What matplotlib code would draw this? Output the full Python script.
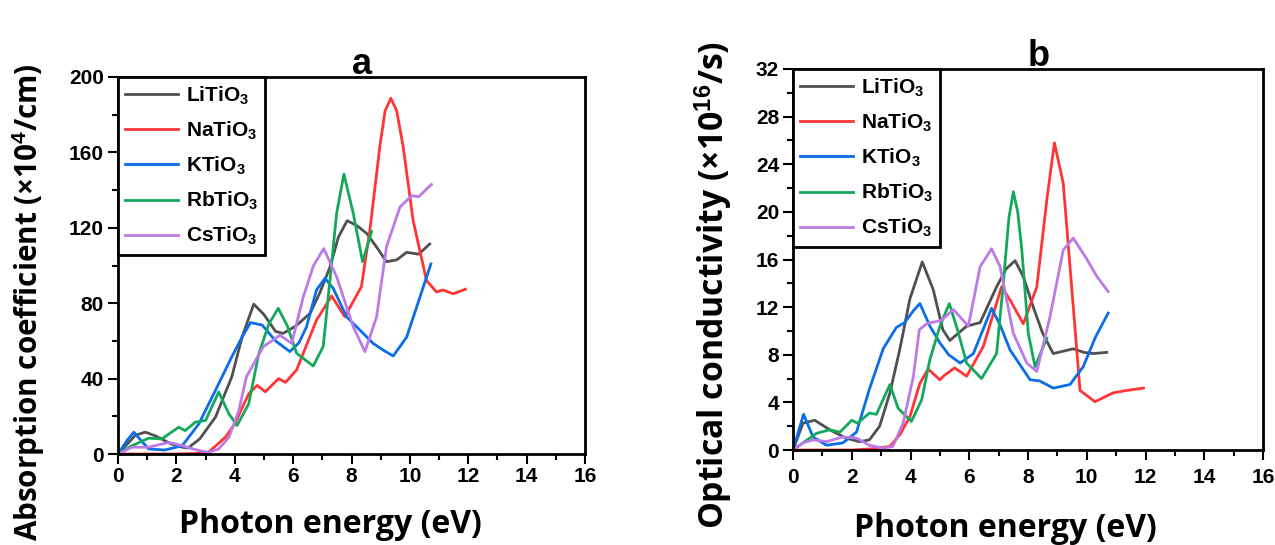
import matplotlib
matplotlib.use("Agg")
import matplotlib.pyplot as plt
from matplotlib.ticker import MultipleLocator

plt.rcParams['font.family'] = ['Liberation Sans', 'DejaVu Sans']
plt.rcParams['font.weight'] = 'bold'
plt.rcParams['mathtext.fontset'] = 'custom'
plt.rcParams['mathtext.rm'] = 'Liberation Sans:bold'
plt.rcParams['mathtext.bf'] = 'Liberation Sans:bold'
plt.rcParams['mathtext.it'] = 'Liberation Sans:bold'

names = ["LiTiO$_3$", "NaTiO$_3$", "KTiO$_3$", "RbTiO$_3$", "CsTiO$_3$"]
colores = ["#505050", "#ff3535", "#0a6ee8", "#14a85c", "#bb7ae8"]

# ---- panel a: coeficiente de absorcion (x10^4/cm) ----
li_e_a = [0, 0.3, 0.6, 0.94, 1.3, 1.8, 2.2, 2.4, 2.8, 3.34, 3.9, 4.25, 4.65, 5.0, 5.4, 5.66, 6.1, 6.58, 6.9, 7.26, 7.55, 7.85, 8.2, 8.52, 8.85, 9.2, 9.55, 9.89, 10.3, 10.68]
li_v_a = [0, 5, 10, 11.6, 9.5, 5.5, 3.6, 3.2, 8, 19.6, 41, 62, 79.5, 74, 65, 64, 68, 74.6, 85, 99, 115, 123.8, 121, 117, 110, 102, 103, 107, 106, 111.4]
na_e_a = [0, 1.0, 2.0, 2.7, 3.1, 3.68, 4.0, 4.48, 4.77, 5.05, 5.5, 5.74, 6.12, 6.8, 7.32, 7.77, 8.34, 8.63, 8.97, 9.15, 9.35, 9.55, 9.77, 10.11, 10.57, 10.91, 11.14, 11.48, 11.9]
na_v_a = [0, 0, 0, 0.3, 0.9, 8.9, 16, 32, 36.4, 33, 40, 38, 44.6, 71, 83.8, 72.8, 88.8, 118.8, 163, 182, 188.7, 182, 163, 124, 92, 86, 87, 85, 87.4]
k_e_a = [0, 0.3, 0.54, 0.8, 1.05, 1.6, 2.2, 2.77, 3.34, 3.9, 4.25, 4.54, 4.94, 5.4, 5.89, 6.2, 6.46, 6.8, 7.09, 7.37, 7.83, 8.4, 8.74, 9.1, 9.43, 9.89, 10.34, 10.72]
k_v_a = [0, 7, 11.6, 7, 2.7, 2.1, 4.4, 16, 33.8, 51.6, 62, 69.7, 68.4, 60, 54.3, 59, 67.5, 87, 93.2, 88, 72.8, 64, 58.7, 55, 52, 62, 83, 100.8]
rb_e_a = [0, 0.48, 1.05, 1.5, 2.08, 2.3, 2.65, 3.0, 3.45, 3.8, 4.08, 4.48, 4.82, 5.17, 5.49, 5.8, 6.12, 6.69, 7.03, 7.26, 7.49, 7.74, 8.06, 8.38, 8.69]
rb_v_a = [0, 4.4, 8.4, 8, 14.2, 12.4, 16.9, 17.8, 32.9, 21.3, 15.1, 26.7, 53, 69, 77.3, 68, 53.4, 46.7, 57, 92, 127.7, 148.5, 127.7, 102, 118]
cs_e_a = [0, 0.48, 1.05, 1.74, 2.2, 2.77, 3.1, 3.45, 3.8, 4.14, 4.4, 4.98, 5.55, 5.95, 6.35, 6.7, 7.05, 7.49, 8.06, 8.46, 8.86, 9.2, 9.66, 10.06, 10.3, 10.74]
cs_v_a = [0, 3.6, 3.6, 6.2, 4.4, 1.8, 0.9, 2.7, 8.9, 23, 41, 57, 63, 58.7, 83.5, 100, 109, 94, 67.5, 54.3, 72.8, 110, 131, 137, 136.5, 143]

# ---- panel b: conductividad optica (x10^16/s) ----
li_e_b = [0, 0.34, 0.74, 1.25, 1.8, 2.27, 2.6, 2.95, 3.3, 3.64, 3.98, 4.4, 4.77, 5.1, 5.34, 5.91, 6.37, 6.93, 7.25, 7.56, 7.85, 8.18, 8.5, 8.86, 9.2, 9.54, 9.9, 10.22, 10.68]
li_v_b = [0, 2.25, 2.5, 1.7, 1.0, 0.7, 0.85, 2.0, 4.8, 8.5, 12.7, 15.8, 13.5, 10.1, 9.2, 10.4, 10.7, 13.7, 15.2, 15.9, 14.5, 12.0, 9.8, 8.1, 8.3, 8.5, 8.2, 8.1, 8.2]
na_e_b = [0, 1.0, 2.0, 2.7, 3.3, 3.64, 3.98, 4.32, 4.6, 5.0, 5.12, 5.5, 5.91, 6.48, 7.1, 7.39, 7.84, 8.3, 8.64, 8.9, 9.2, 9.43, 9.66, 9.77, 10.28, 10.9, 11.36, 11.93]
na_v_b = [0, 0, 0, 0.1, 0.3, 1.3, 2.8, 5.6, 6.8, 5.9, 6.2, 6.9, 6.2, 8.7, 13.7, 12.6, 10.6, 13.7, 21, 25.8, 22.4, 15.4, 8.4, 5.0, 4.06, 4.8, 5.0, 5.2]
k_e_b = [0, 0.36, 0.68, 1.14, 1.7, 2.16, 2.6, 3.07, 3.52, 3.8, 4.1, 4.32, 4.66, 5.0, 5.3, 5.69, 6.14, 6.5, 6.76, 7.05, 7.39, 8.07, 8.4, 8.86, 9.43, 9.88, 10.3, 10.73]
k_v_b = [0, 3.0, 1.1, 0.4, 0.6, 1.5, 5.1, 8.5, 10.3, 10.7, 11.7, 12.3, 10.4, 9.0, 8.0, 7.3, 8.1, 10.3, 11.9, 10.5, 8.4, 5.9, 5.8, 5.2, 5.5, 7.0, 9.5, 11.5]
rb_e_b = [0, 0.34, 0.8, 1.25, 1.6, 2.0, 2.2, 2.6, 2.84, 3.3, 3.58, 4.03, 4.38, 4.66, 5.0, 5.32, 5.6, 5.91, 6.42, 6.93, 7.16, 7.35, 7.5, 7.65, 7.79, 8.01, 8.24, 8.64]
rb_v_b = [0, 0.6, 1.4, 1.7, 1.5, 2.5, 2.25, 3.1, 3.0, 5.5, 3.5, 2.4, 4.2, 7.6, 10.4, 12.3, 10.1, 7.3, 6.0, 8.1, 14.0, 19.5, 21.7, 20.0, 16.8, 9.8, 7.0, 9.4]
cs_e_b = [0, 0.34, 0.68, 1.14, 1.7, 2.16, 2.6, 3.07, 3.4, 3.75, 4.1, 4.3, 4.55, 5.06, 5.46, 5.97, 6.37, 6.76, 7.05, 7.5, 7.96, 8.3, 8.75, 9.2, 9.54, 9.96, 10.34, 10.73]
cs_v_b = [0, 0.6, 0.85, 0.7, 1.1, 1.0, 0.4, 0.15, 0.3, 2.25, 6.2, 10.1, 10.6, 10.9, 11.8, 10.4, 15.4, 16.9, 15.4, 9.8, 7.3, 6.6, 11.2, 16.8, 17.8, 16.2, 14.6, 13.3]

datos_a = [(li_e_a, li_v_a), (na_e_a, na_v_a), (k_e_a, k_v_a), (rb_e_a, rb_v_a), (cs_e_a, cs_v_a)]
datos_b = [(li_e_b, li_v_b), (na_e_b, na_v_b), (k_e_b, k_v_b), (rb_e_b, rb_v_b), (cs_e_b, cs_v_b)]

fig = plt.figure(figsize=(12.75, 5.45), dpi=100)
ax1 = fig.add_axes([118 / 1275, 91 / 545, 467 / 1275, 377 / 545])
ax2 = fig.add_axes([793 / 1275, 95 / 545, 470 / 1275, 381 / 545])


def dibujar(ax, datos, ymax, ystep, ylabel, titulo, ylab_size, ylab_pos, xlab_pos, xpad):
    for (e, v), nombre, c in zip(datos, names, colores):
        ax.plot(e, v, color=c, lw=2, label=nombre)
    ax.set_xlim(0, 16)
    ax.set_ylim(0, ymax)
    ax.xaxis.set_major_locator(MultipleLocator(2))
    ax.xaxis.set_minor_locator(MultipleLocator(1))
    ax.yaxis.set_major_locator(MultipleLocator(ystep))
    ax.yaxis.set_minor_locator(MultipleLocator(ystep / 2))
    ax.tick_params(which='both', direction='out', width=1.5, labelsize=15)
    ax.tick_params(which='major', length=7)
    ax.tick_params(which='minor', length=4)
    ax.tick_params(axis='x', which='major', pad=xpad)
    ax.tick_params(axis='y', which='major', pad=3)
    for lab in ax.get_xticklabels() + ax.get_yticklabels():
        lab.set_fontweight('bold')
    for s in ax.spines.values():
        s.set_linewidth(2)
    ax.set_xlabel("Photon energy (eV)", fontsize=23, fontweight='bold',
                  family=['Open Sans', 'DejaVu Sans'])
    ax.xaxis.set_label_coords(*xlab_pos)
    ax.set_ylabel(ylabel, fontsize=ylab_size, fontweight='bold',
                  family=['Open Sans', 'DejaVu Sans'])
    ax.yaxis.set_label_coords(*ylab_pos)
    ax.text(0.523, 1.008, titulo, transform=ax.transAxes, ha='center', va='baseline',
            fontsize=26, fontweight='bold')
    leg = ax.legend(loc='upper left', borderaxespad=0, fancybox=False,
                    edgecolor='black', framealpha=1, fontsize=15,
                    handlelength=2.55, labelspacing=0.62, handletextpad=0.35,
                    borderpad=0.35)
    leg.get_frame().set_linewidth(2)


dibujar(ax1, datos_a, 200, 40, "Absorption coefficient (\u00d710$^4$/cm)", "a",
        21.3, (-0.152, 0.403), (0.454, -0.143), 2)
dibujar(ax2, datos_b, 32, 4, "Optical conductivity (\u00d710$^{16}$/s)", "b",
        24.3, (-0.123, 0.433), (0.451, -0.163), 6)

fig.savefig("out.png", dpi=100)
